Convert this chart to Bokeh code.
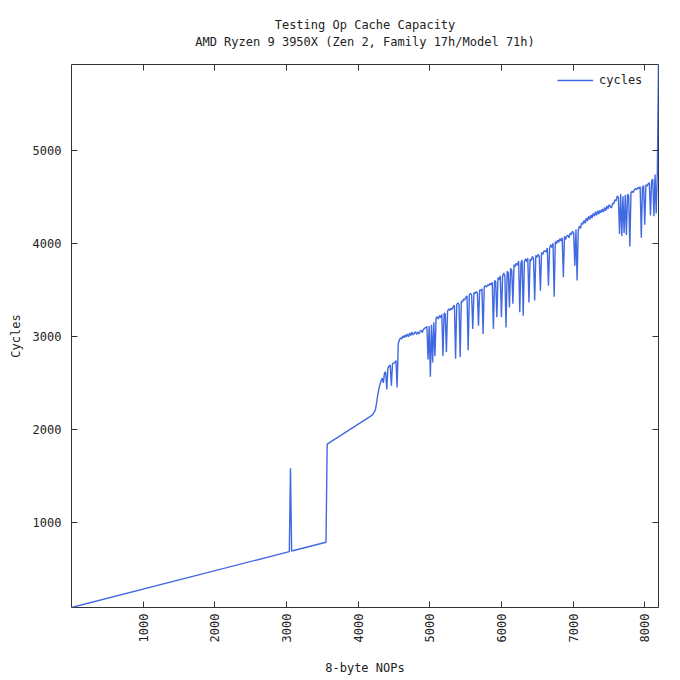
import numpy as np
from bokeh.plotting import figure
from bokeh.models import Range1d, FixedTicker, LinearAxis, Title, Legend, LegendItem
from bokeh.embed import file_html
from bokeh.resources import INLINE

FONT = "DejaVu Sans Mono"
TEXT = "#222222"
LINE = "#4169e1"

# ---- data -------------------------------------------------------------
title_main = "Testing Op Cache Capacity"
title_sub = "AMD Ryzen 9 3950X (Zen 2, Family 17h/Model 71h)"
x_label = "8-byte NOPs"
y_label = "Cycles"
series_name = "cycles"

x_ticks = [1000, 2000, 3000, 4000, 5000, 6000, 7000, 8000]
y_ticks = [1000, 2000, 3000, 4000, 5000]

# sparse early samples
early_nops = [0, 3040, 3056, 3072, 3552, 3568, 4192]
early_cycles = [85, 686, 1582, 692, 786, 1841, 2150]

# dense samples, every 16 NOPs from 4208 to 8176
dense_start, dense_step, dense_stop = 4208, 16, 8176
dense_cycles = [
    2165, 2185, 2210, 2275, 2360, 2430, 2480, 2520, 2550, 2500,
    2605, 2620, 2430, 2660, 2680, 2690, 2470, 2705, 2712, 2718,
    2740, 2450, 2920, 2960, 2985, 2970, 3005, 2985, 3015, 2995,
    3025, 2995, 3035, 3010, 3045, 3015, 3035, 3050, 3020, 3045,
    3025, 3055, 3065, 3040, 3075, 3085, 3095, 3105, 2750, 3110,
    2565, 3125, 2720, 3150, 2785, 3195, 3210, 3185, 3225, 3200,
    3235, 2790, 3250, 3240, 2830, 3270, 3295, 3280, 3300, 3290,
    3320, 3335, 2760, 3340, 3360, 3345, 2775, 3380, 3370, 3400,
    3390, 3420, 3435, 2850, 3450, 3460, 3445, 3080, 3470, 3460,
    3480, 3470, 3115, 3500, 3490, 3510, 3025, 3530, 3545, 3530,
    3555, 3545, 3570, 3555, 3580, 3080, 3600, 3590, 3205, 3630,
    3610, 3650, 3205, 3640, 3680, 3650, 3095, 3700, 3685, 3310,
    3730, 3710, 3350, 3770, 3750, 3785, 3765, 3810, 3260, 3785,
    3820, 3220, 3795, 3835, 3805, 3840, 3365, 3830, 3815, 3860,
    3835, 3385, 3870, 3850, 3880, 3860, 3490, 3900, 3880, 3915,
    3920, 3905, 3950, 3545, 3945, 3985, 3955, 4000, 3425, 4020,
    3995, 4035, 4010, 4050, 4025, 4060, 3635, 4075, 4040, 4080,
    4085, 4060, 4110, 4095, 4130, 4110, 3760, 4150, 3600, 4135,
    4185, 4160, 4220, 4205, 4245, 4215, 4270, 4240, 4290, 4255,
    4305, 4270, 4320, 4290, 4340, 4300, 4350, 4315, 4355, 4330,
    4370, 4335, 4385, 4350, 4400, 4370, 4415, 4395, 4380, 4430,
    4425, 4470, 4455, 4510, 4495, 4100, 4530, 4080, 4505, 4110,
    4520, 4090, 4530, 4510, 3965, 4540, 4560, 4545, 4575, 4590,
    4575, 4600, 4590, 4610, 4060, 4600, 4620, 4200, 4630, 4615,
    4640, 4650, 4300, 4670, 4690, 4290, 4740, 4320, 4770,
]

final_nops = [8192]
final_cycles = [5922]

dense_nops = list(range(dense_start, dense_stop + 1, dense_step))
nops = early_nops + dense_nops + final_nops
cycles = early_cycles + dense_cycles + final_cycles

# ---- figure -----------------------------------------------------------
p = figure(width=672, height=680, output_backend="svg", toolbar_location=None,
           x_range=Range1d(min(nops), max(nops)),
           y_range=Range1d(min(cycles), max(cycles)),
           min_border_left=71, min_border_right=14,
           min_border_top=64, min_border_bottom=73,
           background_fill_color="white", border_fill_color="white")

r = p.line(nops, cycles, line_color=LINE, line_width=1.4)

p.grid.visible = False
p.outline_line_color = "#333333"
p.outline_line_width = 1

p.xaxis.ticker = FixedTicker(ticks=x_ticks)
p.yaxis.ticker = FixedTicker(ticks=y_ticks)
p.xaxis.major_label_orientation = np.pi / 2
p.xaxis.axis_label = x_label
p.yaxis.axis_label = y_label

for ax in (p.xaxis[0], p.yaxis[0]):
    ax.axis_line_color = None
    ax.major_tick_in = 6
    ax.major_tick_out = 0
    ax.minor_tick_in = 0
    ax.minor_tick_out = 0
    ax.major_tick_line_color = "#333333"
    ax.major_label_text_font = FONT
    ax.major_label_text_font_size = "12px"
    ax.major_label_text_color = TEXT
    ax.axis_label_text_font = FONT
    ax.axis_label_text_font_size = "12px"
    ax.axis_label_text_font_style = "normal"
    ax.axis_label_text_color = TEXT
p.xaxis.major_label_standoff = 6
p.xaxis.axis_label_standoff = 16
p.yaxis.major_label_standoff = 10
p.yaxis.axis_label_standoff = 7

top_ax = LinearAxis(ticker=FixedTicker(ticks=x_ticks))
right_ax = LinearAxis(ticker=FixedTicker(ticks=y_ticks))
top_ax.major_label_overrides = {t: "" for t in x_ticks}
right_ax.major_label_overrides = {t: "" for t in y_ticks}
for ax in (top_ax, right_ax):
    ax.axis_line_color = None
    ax.major_tick_in = 6
    ax.major_tick_out = 0
    ax.minor_tick_in = 0
    ax.minor_tick_out = 0
    ax.major_tick_line_color = "#333333"
    ax.major_label_standoff = 0
# the subtitle line sits just above the plot as the top axis' label
top_ax.axis_label = title_sub
top_ax.axis_label_text_font = FONT
top_ax.axis_label_text_font_size = "12px"
top_ax.axis_label_text_font_style = "normal"
top_ax.axis_label_text_color = TEXT
top_ax.axis_label_standoff = 16
p.add_layout(top_ax, "above")
p.add_layout(right_ax, "right")

p.add_layout(Title(text=title_main, align="center", text_font=FONT,
                   text_font_size="12px", text_font_style="normal",
                   text_color=TEXT, standoff=0), "above")

legend = Legend(items=[LegendItem(label=series_name, renderers=[r])],
                location=(486, 517), border_line_color=None,
                background_fill_alpha=0, label_text_font=FONT,
                label_text_font_size="12px", label_text_color=TEXT,
                glyph_width=36, label_standoff=6, margin=0, padding=4)
p.add_layout(legend)

open("out.html", "w").write(file_html(p, INLINE))
